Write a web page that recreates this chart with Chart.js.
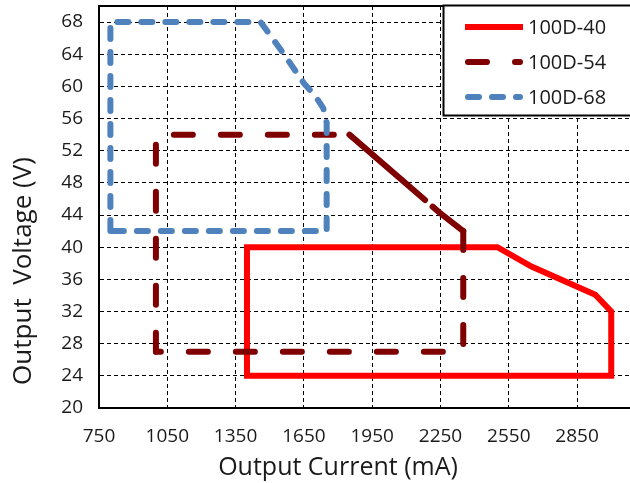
<!DOCTYPE html>
<html>
<head>
<meta charset="utf-8">
<script src="https://cdn.jsdelivr.net/npm/chart.js@4.4.1/dist/chart.umd.min.js"></script>
<style>
html,body{margin:0;padding:0;overflow:hidden;background:#fff;width:630px;height:483px}
#wrap{position:absolute;left:0;top:0;width:640px;height:483px}
canvas{display:block}
</style>
</head>
<body>
<div id="wrap"><canvas id="c" width="640" height="483" style="width:640px;height:483px"></canvas></div>
<script>
// ---- data ----
const seriesNames = ['100D-40', '100D-54', '100D-68'];

const current40 = [1400, 1400, 2500, 2650, 2930, 3000, 3000, 1400];
const voltage40 = [24, 40, 40, 37.6, 34.1, 32, 24, 24];

const current54 = [1000, 1000, 1850, 2250, 2350, 2350, 1000];
const voltage54 = [27, 54, 54, 44.2, 42, 27, 27];

const current68 = [800, 800, 1460, 1560, 1650, 1700, 1735, 1750, 1750, 800];
const voltage68 = [42, 68, 68, 64.1, 60.4, 58.8, 57.3, 55.5, 42, 42];

const xTickValues = [750, 1050, 1350, 1650, 1950, 2250, 2550, 2850];
const yTickValues = [20, 24, 28, 32, 36, 40, 44, 48, 52, 56, 60, 64, 68];

const xTitle = 'Output Current (mA)';
const yTitle = 'Output  Voltage (V)';

// ---- build ----
const toPoints = (xs, ys) => xs.map((x, i) => ({x: x, y: ys[i]}));
const FONT = '"Open Sans", "Noto Sans", sans-serif';
const isDiagonal = (c) => c.p0.parsed.x !== c.p1.parsed.x && c.p0.parsed.y !== c.p1.parsed.y;

const decor = {
  id: 'decor',
  afterDraw(chart) {
    const ctx = chart.ctx;
    const a = chart.chartArea;
    ctx.save();
    // top frame line
    ctx.strokeStyle = '#000';
    ctx.lineWidth = 2;
    ctx.beginPath();
    ctx.moveTo(a.left - 1, a.top);
    ctx.lineTo(chart.width, a.top);
    ctx.stroke();

    // legend box
    const lx = 443.5, ly = 5.5, lh = 110;
    ctx.fillStyle = '#fff';
    ctx.fillRect(lx, ly, chart.width - lx + 5, lh);
    ctx.lineWidth = 2;
    ctx.strokeStyle = '#000';
    ctx.strokeRect(lx, ly, chart.width - lx + 5, lh);
    const rowY = [27, 62, 97];
    chart.data.datasets.forEach((ds, i) => {
      ctx.save();
      ctx.strokeStyle = ds.borderColor;
      ctx.lineWidth = ds.borderWidth;
      ctx.lineCap = ds.borderCapStyle === 'square' ? 'butt' : ds.borderCapStyle;
      ctx.setLineDash(ds.borderDash || []);
      ctx.beginPath();
      const x0 = ds.borderCapStyle === 'square' ? 465 : 468;
      const x1 = ds.borderCapStyle === 'square' ? 523 : 520;
      ctx.moveTo(x0, rowY[i]);
      ctx.lineTo(x1, rowY[i]);
      ctx.stroke();
      ctx.restore();
      ctx.fillStyle = '#1a1a1a';
      ctx.font = '20px ' + FONT;
      ctx.textBaseline = 'middle';
      ctx.textAlign = 'left';
      ctx.fillText(ds.label, 528, rowY[i] + 1);
    });

    // axis titles
    ctx.fillStyle = '#1a1a1a';
    ctx.font = '25px ' + FONT;
    ctx.textAlign = 'center';
    ctx.textBaseline = 'alphabetic';
    ctx.fillText(xTitle, 338, 475);
    ctx.font = '26px ' + FONT;
    ctx.translate(31, 271);
    ctx.rotate(-Math.PI / 2);
    ctx.fillText(yTitle, 0, 0);
    ctx.restore();
  }
};

new Chart(document.getElementById('c'), {
  type: 'scatter',
  data: {
    datasets: [
      {
        label: seriesNames[0],
        data: toPoints(current40, voltage40),
        showLine: true,
        borderColor: '#FF0000',
        backgroundColor: '#FF0000',
        borderWidth: 6,
        borderCapStyle: 'square',
        borderJoinStyle: 'miter',
        pointRadius: 0,
        order: 2
      },
      {
        label: seriesNames[1],
        data: toPoints(current54, voltage54),
        showLine: true,
        borderColor: '#7F0000',
        backgroundColor: '#7F0000',
        borderWidth: 6,
        borderDash: [19, 28],
        borderCapStyle: 'round',
        borderJoinStyle: 'round',
        segment: {borderDash: (c) => isDiagonal(c) ? [100, 10] : undefined},
        pointRadius: 0,
        order: 1
      },
      {
        label: seriesNames[2],
        data: toPoints(current68, voltage68),
        showLine: true,
        borderColor: '#4F81BD',
        backgroundColor: '#4F81BD',
        borderWidth: 6,
        borderDash: [11, 13],
        borderCapStyle: 'round',
        borderJoinStyle: 'round',
        pointRadius: 0,
        order: 0
      }
    ]
  },
  options: {
    responsive: false,
    devicePixelRatio: 1,
    animation: false,
    events: [],
    layout: {padding: {left: 0, top: 6, right: 6, bottom: 0}},
    plugins: {legend: {display: false}, tooltip: {enabled: false}},
    scales: {
      x: {
        type: 'linear',
        min: 750,
        max: 3100,
        afterBuildTicks: (s) => { s.ticks = xTickValues.map(v => ({value: v})); },
        afterFit: (s) => { s.height = 75; s.paddingLeft = 0; s.paddingRight = 0; },
        ticks: {padding: 17, color: '#1a1a1a', font: {family: FONT, size: 19}, maxRotation: 0, autoSkip: false,
                callback: (v) => String(v)},
        grid: {color: '#000', lineWidth: 1, drawTicks: false},
        border: {display: true, color: '#000', width: 2, dash: [4, 3]}
      },
      y: {
        type: 'linear',
        min: 20,
        max: 70,
        afterBuildTicks: (s) => { s.ticks = yTickValues.map(v => ({value: v})); },
        afterFit: (s) => { s.width = 99; s.paddingTop = 0; s.paddingBottom = 0; },
        ticks: {padding: 16, color: '#1a1a1a', font: {family: FONT, size: 19}, autoSkip: false,
                callback: (v) => String(v)},
        grid: {color: '#000', lineWidth: 1, drawTicks: false},
        border: {display: true, color: '#000', width: 2, dash: [4, 3]}
      }
    }
  },
  plugins: [decor]
});
</script>
</body>
</html>
